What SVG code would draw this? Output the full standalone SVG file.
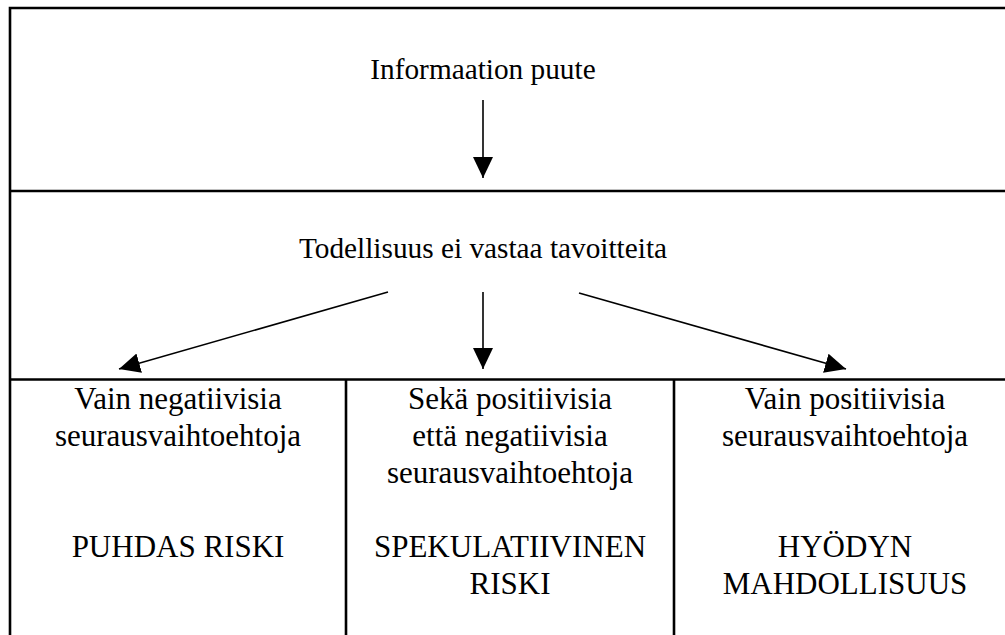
<svg xmlns="http://www.w3.org/2000/svg" width="1005" height="635" viewBox="0 0 1005 635">
<style>
.frame{stroke:#000;stroke-width:2.6;fill:none}
.arr{stroke:#000;stroke-width:1.6;fill:none;marker-end:url(#ah)}
text{font-family:"Liberation Serif","DejaVu Serif","Times New Roman",serif;font-size:31px;fill:#000;text-anchor:middle}
.top{font-size:29.3px}
</style>
<defs>
<marker id="ah" markerUnits="userSpaceOnUse" markerWidth="22" markerHeight="22" viewBox="0 0 22 22" refX="21" refY="11" orient="auto">
<path d="M0,1 L21,11 L0,21 Z" fill="#000"/>
</marker>
</defs>
<rect width="1005" height="635" fill="#fff"/>
<g id="frame">
<path class="frame" d="M10,635 V8 H1005"/>
<path class="frame" d="M10,191 H1005"/>
<path class="frame" d="M10,379.5 H1005"/>
<path class="frame" d="M346,379.5 V635"/>
<path class="frame" d="M674,379.5 V635"/>
</g>
<g font-family="Liberation Serif, serif">
<g id="n1"><text class="top" x="483" y="79">Informaation puute</text></g>
<g id="n2"><text class="top" x="483" y="258">Todellisuus ei vastaa tavoitteita</text></g>
<g id="n3"><text x="178" y="409">Vain negatiivisia</text><text x="178" y="446">seurausvaihtoehtoja</text><text x="178" y="557">PUHDAS RISKI</text></g>
<g id="n4"><text x="510" y="409">Sekä positiivisia</text><text x="510" y="446">että negatiivisia</text><text x="510" y="483">seurausvaihtoehtoja</text><text x="510" y="557">SPEKULATIIVINEN</text><text x="510" y="594">RISKI</text></g>
<g id="n5"><text x="845" y="409">Vain positiivisia</text><text x="845" y="446">seurausvaihtoehtoja</text><text x="845" y="557">HYÖDYN</text><text x="845" y="594">MAHDOLLISUUS</text></g>
</g>
<g id="connectors">
<line class="arr" x1="483" y1="100" x2="483" y2="178"/>
<line class="arr" x1="483" y1="292" x2="483" y2="369"/>
<line class="arr" x1="388" y1="292" x2="119" y2="369"/>
<line class="arr" x1="579" y1="293" x2="846" y2="369"/>
</g>
</svg>
